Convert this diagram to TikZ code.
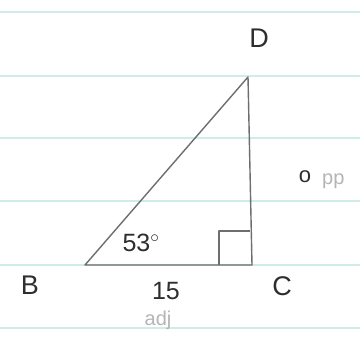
\documentclass[tikz,border=0pt]{standalone}
\usepackage{fontspec}
\setmainfont{Liberation Sans}
\usepackage{tikz}
\usetikzlibrary{calc}
\definecolor{ruling}{HTML}{CFEDE8}
\definecolor{pencil}{HTML}{6E6E6E}
\definecolor{inkdark}{HTML}{2E2E2E}
\definecolor{inklight}{HTML}{B5B5B5}

\begin{document}
\begin{tikzpicture}[
        x=1pt, y=-1pt,
        ruleline/.style={draw=ruling, line width=1.2pt},
        side/.style={draw=pencil, line width=1.4pt, line join=round},
        vlabel/.style={font=\fontsize{27}{29}\selectfont, text=inkdark, inner sep=0pt},
        mlabel/.style={font=\fontsize{25}{27}\selectfont, text=inkdark, inner sep=0pt},
        faint/.style={font=\fontsize{20}{22}\selectfont, text=inklight, inner sep=0pt}
    ]
        % Page and ruled lines
        \useasboundingbox[fill=white] (0,0) rectangle (360,361);
        \foreach \yy in {12,76,138,201,265,328}
            \draw[ruleline] (0,\yy) -- (360,\yy);

        % Vertices
        \coordinate (b) at (85,265);
        \coordinate (c) at (252,265);
        \coordinate (d) at (248,77);

        % Triangle
        \draw[side] (b) -- (c) -- (d) -- cycle;
        % Right angle mark at C
        \draw[side, line width=1.1pt] ($(c)+(-33,0)$) -- ($(c)+(-33,-34)$) -- ($(c)+(-2,-34)$);

        % Vertex labels
        \node[vlabel] (lbld) at (259,38) {D};
        \node[vlabel] (lblb) at (30,285) {B};
        \node[vlabel] (lblc) at (282,286) {C};

        % Measures
        \node[mlabel] (ang) at (141,243) {53$^{\circ}$};
        \node[mlabel] (base) at (166,291) {15};
        \node[font=\fontsize{22}{24}\selectfont, text=inkdark, inner sep=0pt] (oppo) at (305,177) {o};
        \node[faint, anchor=west] (oppp) at (322,181) {pp};
        \node[faint] (adj) at (158,320) {adj};
\end{tikzpicture}
\end{document}
